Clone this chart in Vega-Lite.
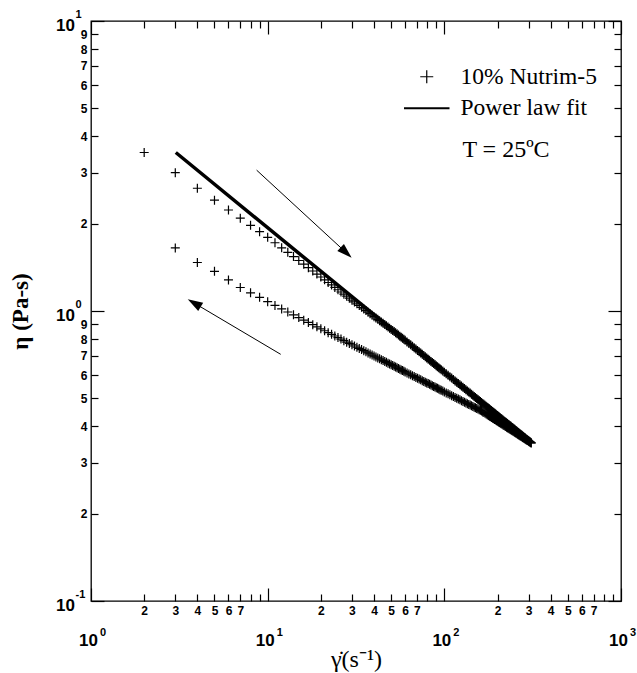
{
  "$schema": "https://vega.github.io/schema/vega-lite/v6.json",
  "width": 530,
  "height": 580,
  "autosize": "none",
  "padding": {"left": 91, "top": 21, "right": 16, "bottom": 72},
  "background": "white",
  "config": {
    "view": {"stroke": "black", "strokeWidth": 1.3},
    "axis": {"grid": false, "domain": false, "tickColor": "black", "tickWidth": 1.2, "labelColor": "black", "labelFont": "Liberation Sans", "labelFontWeight": "bold", "labelFlush": false, "labelOverlap": false, "labelBound": false}
  },
  "datasets": {
    "points": [
      {"sweep":"up","series":"10% Nutrim-5","rate":2,"eta":3.52},
      {"sweep":"up","series":"10% Nutrim-5","rate":3,"eta":3.00},
      {"sweep":"up","series":"10% Nutrim-5","rate":4,"eta":2.65},
      {"sweep":"up","series":"10% Nutrim-5","rate":5,"eta":2.41},
      {"sweep":"up","series":"10% Nutrim-5","rate":6,"eta":2.23},
      {"sweep":"up","series":"10% Nutrim-5","rate":7,"eta":2.09},
      {"sweep":"up","series":"10% Nutrim-5","rate":8,"eta":1.975},
      {"sweep":"up","series":"10% Nutrim-5","rate":9,"eta":1.878},
      {"sweep":"up","series":"10% Nutrim-5","rate":10,"eta":1.795},
      {"sweep":"up","series":"10% Nutrim-5","rate":11,"eta":1.719},
      {"sweep":"up","series":"10% Nutrim-5","rate":12,"eta":1.652},
      {"sweep":"up","series":"10% Nutrim-5","rate":13,"eta":1.594},
      {"sweep":"up","series":"10% Nutrim-5","rate":14,"eta":1.540},
      {"sweep":"up","series":"10% Nutrim-5","rate":15,"eta":1.493},
      {"sweep":"up","series":"10% Nutrim-5","rate":16,"eta":1.450},
      {"sweep":"up","series":"10% Nutrim-5","rate":17,"eta":1.411},
      {"sweep":"up","series":"10% Nutrim-5","rate":18,"eta":1.374},
      {"sweep":"up","series":"10% Nutrim-5","rate":19,"eta":1.341},
      {"sweep":"up","series":"10% Nutrim-5","rate":20,"eta":1.310},
      {"sweep":"up","series":"10% Nutrim-5","rate":21,"eta":1.281},
      {"sweep":"up","series":"10% Nutrim-5","rate":22,"eta":1.254},
      {"sweep":"up","series":"10% Nutrim-5","rate":23,"eta":1.230},
      {"sweep":"up","series":"10% Nutrim-5","rate":24,"eta":1.206},
      {"sweep":"up","series":"10% Nutrim-5","rate":25,"eta":1.184},
      {"sweep":"up","series":"10% Nutrim-5","rate":26,"eta":1.163},
      {"sweep":"up","series":"10% Nutrim-5","rate":27,"eta":1.143},
      {"sweep":"up","series":"10% Nutrim-5","rate":28,"eta":1.125},
      {"sweep":"up","series":"10% Nutrim-5","rate":29,"eta":1.107},
      {"sweep":"up","series":"10% Nutrim-5","rate":30,"eta":1.090},
      {"sweep":"up","series":"10% Nutrim-5","rate":31,"eta":1.0745},
      {"sweep":"up","series":"10% Nutrim-5","rate":32,"eta":1.059},
      {"sweep":"up","series":"10% Nutrim-5","rate":33,"eta":1.0445},
      {"sweep":"up","series":"10% Nutrim-5","rate":34,"eta":1.030},
      {"sweep":"up","series":"10% Nutrim-5","rate":35,"eta":1.0165},
      {"sweep":"up","series":"10% Nutrim-5","rate":36,"eta":1.003},
      {"sweep":"up","series":"10% Nutrim-5","rate":37,"eta":0.991},
      {"sweep":"up","series":"10% Nutrim-5","rate":38,"eta":0.979},
      {"sweep":"up","series":"10% Nutrim-5","rate":39,"eta":0.9675},
      {"sweep":"up","series":"10% Nutrim-5","rate":40,"eta":0.956},
      {"sweep":"up","series":"10% Nutrim-5","rate":41,"eta":0.946},
      {"sweep":"up","series":"10% Nutrim-5","rate":42,"eta":0.936},
      {"sweep":"up","series":"10% Nutrim-5","rate":43,"eta":0.926},
      {"sweep":"up","series":"10% Nutrim-5","rate":44,"eta":0.916},
      {"sweep":"up","series":"10% Nutrim-5","rate":45,"eta":0.907},
      {"sweep":"up","series":"10% Nutrim-5","rate":46,"eta":0.898},
      {"sweep":"up","series":"10% Nutrim-5","rate":47,"eta":0.889},
      {"sweep":"up","series":"10% Nutrim-5","rate":48,"eta":0.880},
      {"sweep":"up","series":"10% Nutrim-5","rate":49,"eta":0.872},
      {"sweep":"up","series":"10% Nutrim-5","rate":50,"eta":0.864},
      {"sweep":"up","series":"10% Nutrim-5","rate":51,"eta":0.8565},
      {"sweep":"up","series":"10% Nutrim-5","rate":52,"eta":0.849},
      {"sweep":"up","series":"10% Nutrim-5","rate":53,"eta":0.8415},
      {"sweep":"up","series":"10% Nutrim-5","rate":54,"eta":0.834},
      {"sweep":"up","series":"10% Nutrim-5","rate":55,"eta":0.8265},
      {"sweep":"up","series":"10% Nutrim-5","rate":56,"eta":0.819},
      {"sweep":"up","series":"10% Nutrim-5","rate":57,"eta":0.812},
      {"sweep":"up","series":"10% Nutrim-5","rate":58,"eta":0.805},
      {"sweep":"up","series":"10% Nutrim-5","rate":59,"eta":0.7985},
      {"sweep":"up","series":"10% Nutrim-5","rate":60,"eta":0.792},
      {"sweep":"up","series":"10% Nutrim-5","rate":61.5,"eta":0.7825},
      {"sweep":"up","series":"10% Nutrim-5","rate":63,"eta":0.773},
      {"sweep":"up","series":"10% Nutrim-5","rate":64.5,"eta":0.7645},
      {"sweep":"up","series":"10% Nutrim-5","rate":66,"eta":0.756},
      {"sweep":"up","series":"10% Nutrim-5","rate":67.5,"eta":0.7475},
      {"sweep":"up","series":"10% Nutrim-5","rate":69,"eta":0.739},
      {"sweep":"up","series":"10% Nutrim-5","rate":70.5,"eta":0.7315},
      {"sweep":"up","series":"10% Nutrim-5","rate":72,"eta":0.724},
      {"sweep":"up","series":"10% Nutrim-5","rate":73.5,"eta":0.7165},
      {"sweep":"up","series":"10% Nutrim-5","rate":75,"eta":0.709},
      {"sweep":"up","series":"10% Nutrim-5","rate":76.5,"eta":0.7025},
      {"sweep":"up","series":"10% Nutrim-5","rate":78,"eta":0.696},
      {"sweep":"up","series":"10% Nutrim-5","rate":79.5,"eta":0.689},
      {"sweep":"up","series":"10% Nutrim-5","rate":81,"eta":0.682},
      {"sweep":"up","series":"10% Nutrim-5","rate":82.5,"eta":0.676},
      {"sweep":"up","series":"10% Nutrim-5","rate":84,"eta":0.670},
      {"sweep":"up","series":"10% Nutrim-5","rate":85.5,"eta":0.6645},
      {"sweep":"up","series":"10% Nutrim-5","rate":87,"eta":0.659},
      {"sweep":"up","series":"10% Nutrim-5","rate":88.5,"eta":0.6535},
      {"sweep":"up","series":"10% Nutrim-5","rate":90,"eta":0.648},
      {"sweep":"up","series":"10% Nutrim-5","rate":91.5,"eta":0.6425},
      {"sweep":"up","series":"10% Nutrim-5","rate":93,"eta":0.637},
      {"sweep":"up","series":"10% Nutrim-5","rate":94.5,"eta":0.632},
      {"sweep":"up","series":"10% Nutrim-5","rate":96,"eta":0.627},
      {"sweep":"up","series":"10% Nutrim-5","rate":98,"eta":0.621},
      {"sweep":"up","series":"10% Nutrim-5","rate":100,"eta":0.615},
      {"sweep":"up","series":"10% Nutrim-5","rate":102.5,"eta":0.6075},
      {"sweep":"up","series":"10% Nutrim-5","rate":105,"eta":0.600},
      {"sweep":"up","series":"10% Nutrim-5","rate":107.5,"eta":0.5935},
      {"sweep":"up","series":"10% Nutrim-5","rate":110,"eta":0.587},
      {"sweep":"up","series":"10% Nutrim-5","rate":112.5,"eta":0.5805},
      {"sweep":"up","series":"10% Nutrim-5","rate":115,"eta":0.574},
      {"sweep":"up","series":"10% Nutrim-5","rate":117.5,"eta":0.568},
      {"sweep":"up","series":"10% Nutrim-5","rate":120,"eta":0.562},
      {"sweep":"up","series":"10% Nutrim-5","rate":122.5,"eta":0.5565},
      {"sweep":"up","series":"10% Nutrim-5","rate":125,"eta":0.551},
      {"sweep":"up","series":"10% Nutrim-5","rate":127.5,"eta":0.5455},
      {"sweep":"up","series":"10% Nutrim-5","rate":130,"eta":0.540},
      {"sweep":"up","series":"10% Nutrim-5","rate":132.5,"eta":0.535},
      {"sweep":"up","series":"10% Nutrim-5","rate":135,"eta":0.530},
      {"sweep":"up","series":"10% Nutrim-5","rate":137.5,"eta":0.5255},
      {"sweep":"up","series":"10% Nutrim-5","rate":140,"eta":0.521},
      {"sweep":"up","series":"10% Nutrim-5","rate":142.5,"eta":0.5165},
      {"sweep":"up","series":"10% Nutrim-5","rate":145,"eta":0.512},
      {"sweep":"up","series":"10% Nutrim-5","rate":147.5,"eta":0.5075},
      {"sweep":"up","series":"10% Nutrim-5","rate":150,"eta":0.503},
      {"sweep":"up","series":"10% Nutrim-5","rate":152.5,"eta":0.499},
      {"sweep":"up","series":"10% Nutrim-5","rate":155,"eta":0.495},
      {"sweep":"up","series":"10% Nutrim-5","rate":157.5,"eta":0.491},
      {"sweep":"up","series":"10% Nutrim-5","rate":160,"eta":0.487},
      {"sweep":"up","series":"10% Nutrim-5","rate":162.5,"eta":0.4835},
      {"sweep":"up","series":"10% Nutrim-5","rate":165,"eta":0.480},
      {"sweep":"up","series":"10% Nutrim-5","rate":167.5,"eta":0.4765},
      {"sweep":"up","series":"10% Nutrim-5","rate":170,"eta":0.473},
      {"sweep":"up","series":"10% Nutrim-5","rate":172.5,"eta":0.4695},
      {"sweep":"up","series":"10% Nutrim-5","rate":175,"eta":0.466},
      {"sweep":"up","series":"10% Nutrim-5","rate":177.5,"eta":0.463},
      {"sweep":"up","series":"10% Nutrim-5","rate":180,"eta":0.460},
      {"sweep":"up","series":"10% Nutrim-5","rate":182.5,"eta":0.4568},
      {"sweep":"up","series":"10% Nutrim-5","rate":185,"eta":0.4535},
      {"sweep":"up","series":"10% Nutrim-5","rate":187.5,"eta":0.4505},
      {"sweep":"up","series":"10% Nutrim-5","rate":190,"eta":0.4475},
      {"sweep":"up","series":"10% Nutrim-5","rate":192.5,"eta":0.4448},
      {"sweep":"up","series":"10% Nutrim-5","rate":195,"eta":0.442},
      {"sweep":"up","series":"10% Nutrim-5","rate":197.5,"eta":0.439},
      {"sweep":"up","series":"10% Nutrim-5","rate":200,"eta":0.436},
      {"sweep":"up","series":"10% Nutrim-5","rate":202.5,"eta":0.4335},
      {"sweep":"up","series":"10% Nutrim-5","rate":205,"eta":0.431},
      {"sweep":"up","series":"10% Nutrim-5","rate":207.5,"eta":0.4285},
      {"sweep":"up","series":"10% Nutrim-5","rate":210,"eta":0.426},
      {"sweep":"up","series":"10% Nutrim-5","rate":212.5,"eta":0.4235},
      {"sweep":"up","series":"10% Nutrim-5","rate":215,"eta":0.421},
      {"sweep":"up","series":"10% Nutrim-5","rate":217.5,"eta":0.4185},
      {"sweep":"up","series":"10% Nutrim-5","rate":220,"eta":0.416},
      {"sweep":"up","series":"10% Nutrim-5","rate":222.5,"eta":0.4138},
      {"sweep":"up","series":"10% Nutrim-5","rate":225,"eta":0.4115},
      {"sweep":"up","series":"10% Nutrim-5","rate":227.5,"eta":0.4093},
      {"sweep":"up","series":"10% Nutrim-5","rate":230,"eta":0.407},
      {"sweep":"up","series":"10% Nutrim-5","rate":232.5,"eta":0.405},
      {"sweep":"up","series":"10% Nutrim-5","rate":235,"eta":0.403},
      {"sweep":"up","series":"10% Nutrim-5","rate":237.5,"eta":0.401},
      {"sweep":"up","series":"10% Nutrim-5","rate":240,"eta":0.399},
      {"sweep":"up","series":"10% Nutrim-5","rate":242.5,"eta":0.3969},
      {"sweep":"up","series":"10% Nutrim-5","rate":245,"eta":0.3947},
      {"sweep":"up","series":"10% Nutrim-5","rate":247.5,"eta":0.3928},
      {"sweep":"up","series":"10% Nutrim-5","rate":250,"eta":0.3908},
      {"sweep":"up","series":"10% Nutrim-5","rate":252.5,"eta":0.3889},
      {"sweep":"up","series":"10% Nutrim-5","rate":255,"eta":0.387},
      {"sweep":"up","series":"10% Nutrim-5","rate":257.5,"eta":0.385},
      {"sweep":"up","series":"10% Nutrim-5","rate":260,"eta":0.383},
      {"sweep":"up","series":"10% Nutrim-5","rate":262.5,"eta":0.3814},
      {"sweep":"up","series":"10% Nutrim-5","rate":265,"eta":0.3797},
      {"sweep":"up","series":"10% Nutrim-5","rate":267.5,"eta":0.3779},
      {"sweep":"up","series":"10% Nutrim-5","rate":270,"eta":0.376},
      {"sweep":"up","series":"10% Nutrim-5","rate":272.5,"eta":0.3744},
      {"sweep":"up","series":"10% Nutrim-5","rate":275,"eta":0.3727},
      {"sweep":"up","series":"10% Nutrim-5","rate":277.5,"eta":0.3711},
      {"sweep":"up","series":"10% Nutrim-5","rate":280,"eta":0.3694},
      {"sweep":"up","series":"10% Nutrim-5","rate":282.5,"eta":0.3678},
      {"sweep":"up","series":"10% Nutrim-5","rate":285,"eta":0.3662},
      {"sweep":"up","series":"10% Nutrim-5","rate":287.5,"eta":0.3646},
      {"sweep":"up","series":"10% Nutrim-5","rate":290,"eta":0.363},
      {"sweep":"up","series":"10% Nutrim-5","rate":292.5,"eta":0.3615},
      {"sweep":"up","series":"10% Nutrim-5","rate":295,"eta":0.360},
      {"sweep":"up","series":"10% Nutrim-5","rate":297.5,"eta":0.3585},
      {"sweep":"up","series":"10% Nutrim-5","rate":300,"eta":0.357},
      {"sweep":"up","series":"10% Nutrim-5","rate":302.5,"eta":0.3555},
      {"sweep":"up","series":"10% Nutrim-5","rate":305,"eta":0.354},
      {"sweep":"up","series":"10% Nutrim-5","rate":307.5,"eta":0.3525},
      {"sweep":"up","series":"10% Nutrim-5","rate":310,"eta":0.351},
      {"sweep":"down","series":"10% Nutrim-5","rate":3,"eta":1.65},
      {"sweep":"down","series":"10% Nutrim-5","rate":4,"eta":1.47},
      {"sweep":"down","series":"10% Nutrim-5","rate":5,"eta":1.37},
      {"sweep":"down","series":"10% Nutrim-5","rate":6,"eta":1.28},
      {"sweep":"down","series":"10% Nutrim-5","rate":7,"eta":1.205},
      {"sweep":"down","series":"10% Nutrim-5","rate":8,"eta":1.155},
      {"sweep":"down","series":"10% Nutrim-5","rate":9,"eta":1.115},
      {"sweep":"down","series":"10% Nutrim-5","rate":10,"eta":1.077},
      {"sweep":"down","series":"10% Nutrim-5","rate":11,"eta":1.045},
      {"sweep":"down","series":"10% Nutrim-5","rate":12,"eta":1.017},
      {"sweep":"down","series":"10% Nutrim-5","rate":13,"eta":0.992},
      {"sweep":"down","series":"10% Nutrim-5","rate":14,"eta":0.970},
      {"sweep":"down","series":"10% Nutrim-5","rate":15,"eta":0.949},
      {"sweep":"down","series":"10% Nutrim-5","rate":16,"eta":0.930},
      {"sweep":"down","series":"10% Nutrim-5","rate":17,"eta":0.913},
      {"sweep":"down","series":"10% Nutrim-5","rate":18,"eta":0.897},
      {"sweep":"down","series":"10% Nutrim-5","rate":19,"eta":0.882},
      {"sweep":"down","series":"10% Nutrim-5","rate":20,"eta":0.868},
      {"sweep":"down","series":"10% Nutrim-5","rate":21,"eta":0.855},
      {"sweep":"down","series":"10% Nutrim-5","rate":22,"eta":0.842},
      {"sweep":"down","series":"10% Nutrim-5","rate":23,"eta":0.831},
      {"sweep":"down","series":"10% Nutrim-5","rate":24,"eta":0.820},
      {"sweep":"down","series":"10% Nutrim-5","rate":25,"eta":0.810},
      {"sweep":"down","series":"10% Nutrim-5","rate":26,"eta":0.800},
      {"sweep":"down","series":"10% Nutrim-5","rate":27,"eta":0.790},
      {"sweep":"down","series":"10% Nutrim-5","rate":28,"eta":0.781},
      {"sweep":"down","series":"10% Nutrim-5","rate":29,"eta":0.773},
      {"sweep":"down","series":"10% Nutrim-5","rate":30,"eta":0.765},
      {"sweep":"down","series":"10% Nutrim-5","rate":31,"eta":0.7575},
      {"sweep":"down","series":"10% Nutrim-5","rate":32,"eta":0.750},
      {"sweep":"down","series":"10% Nutrim-5","rate":33,"eta":0.743},
      {"sweep":"down","series":"10% Nutrim-5","rate":34,"eta":0.736},
      {"sweep":"down","series":"10% Nutrim-5","rate":35,"eta":0.7295},
      {"sweep":"down","series":"10% Nutrim-5","rate":36,"eta":0.723},
      {"sweep":"down","series":"10% Nutrim-5","rate":37,"eta":0.717},
      {"sweep":"down","series":"10% Nutrim-5","rate":38,"eta":0.711},
      {"sweep":"down","series":"10% Nutrim-5","rate":39,"eta":0.705},
      {"sweep":"down","series":"10% Nutrim-5","rate":40,"eta":0.699},
      {"sweep":"down","series":"10% Nutrim-5","rate":41,"eta":0.694},
      {"sweep":"down","series":"10% Nutrim-5","rate":42,"eta":0.689},
      {"sweep":"down","series":"10% Nutrim-5","rate":43,"eta":0.684},
      {"sweep":"down","series":"10% Nutrim-5","rate":44,"eta":0.679},
      {"sweep":"down","series":"10% Nutrim-5","rate":45,"eta":0.6745},
      {"sweep":"down","series":"10% Nutrim-5","rate":46,"eta":0.670},
      {"sweep":"down","series":"10% Nutrim-5","rate":47,"eta":0.6655},
      {"sweep":"down","series":"10% Nutrim-5","rate":48,"eta":0.661},
      {"sweep":"down","series":"10% Nutrim-5","rate":49,"eta":0.657},
      {"sweep":"down","series":"10% Nutrim-5","rate":50,"eta":0.653},
      {"sweep":"down","series":"10% Nutrim-5","rate":51,"eta":0.649},
      {"sweep":"down","series":"10% Nutrim-5","rate":52,"eta":0.645},
      {"sweep":"down","series":"10% Nutrim-5","rate":53,"eta":0.641},
      {"sweep":"down","series":"10% Nutrim-5","rate":54,"eta":0.637},
      {"sweep":"down","series":"10% Nutrim-5","rate":55,"eta":0.6335},
      {"sweep":"down","series":"10% Nutrim-5","rate":56,"eta":0.630},
      {"sweep":"down","series":"10% Nutrim-5","rate":57,"eta":0.6265},
      {"sweep":"down","series":"10% Nutrim-5","rate":58,"eta":0.623},
      {"sweep":"down","series":"10% Nutrim-5","rate":59,"eta":0.6198},
      {"sweep":"down","series":"10% Nutrim-5","rate":60,"eta":0.6166},
      {"sweep":"down","series":"10% Nutrim-5","rate":61.5,"eta":0.6118},
      {"sweep":"down","series":"10% Nutrim-5","rate":63,"eta":0.607},
      {"sweep":"down","series":"10% Nutrim-5","rate":64.5,"eta":0.6028},
      {"sweep":"down","series":"10% Nutrim-5","rate":66,"eta":0.5985},
      {"sweep":"down","series":"10% Nutrim-5","rate":67.5,"eta":0.5943},
      {"sweep":"down","series":"10% Nutrim-5","rate":69,"eta":0.590},
      {"sweep":"down","series":"10% Nutrim-5","rate":70.5,"eta":0.5863},
      {"sweep":"down","series":"10% Nutrim-5","rate":72,"eta":0.5826},
      {"sweep":"down","series":"10% Nutrim-5","rate":73.5,"eta":0.5788},
      {"sweep":"down","series":"10% Nutrim-5","rate":75,"eta":0.575},
      {"sweep":"down","series":"10% Nutrim-5","rate":76.5,"eta":0.5715},
      {"sweep":"down","series":"10% Nutrim-5","rate":78,"eta":0.568},
      {"sweep":"down","series":"10% Nutrim-5","rate":79.5,"eta":0.5649},
      {"sweep":"down","series":"10% Nutrim-5","rate":81,"eta":0.5618},
      {"sweep":"down","series":"10% Nutrim-5","rate":82.5,"eta":0.5587},
      {"sweep":"down","series":"10% Nutrim-5","rate":84,"eta":0.5555},
      {"sweep":"down","series":"10% Nutrim-5","rate":85.5,"eta":0.5525},
      {"sweep":"down","series":"10% Nutrim-5","rate":87,"eta":0.5495},
      {"sweep":"down","series":"10% Nutrim-5","rate":88.5,"eta":0.5466},
      {"sweep":"down","series":"10% Nutrim-5","rate":90,"eta":0.5437},
      {"sweep":"down","series":"10% Nutrim-5","rate":91.5,"eta":0.541},
      {"sweep":"down","series":"10% Nutrim-5","rate":93,"eta":0.5382},
      {"sweep":"down","series":"10% Nutrim-5","rate":94.5,"eta":0.5356},
      {"sweep":"down","series":"10% Nutrim-5","rate":96,"eta":0.5329},
      {"sweep":"down","series":"10% Nutrim-5","rate":98,"eta":0.5295},
      {"sweep":"down","series":"10% Nutrim-5","rate":100,"eta":0.526},
      {"sweep":"down","series":"10% Nutrim-5","rate":102.5,"eta":0.522},
      {"sweep":"down","series":"10% Nutrim-5","rate":105,"eta":0.518},
      {"sweep":"down","series":"10% Nutrim-5","rate":107.5,"eta":0.5143},
      {"sweep":"down","series":"10% Nutrim-5","rate":110,"eta":0.5106},
      {"sweep":"down","series":"10% Nutrim-5","rate":112.5,"eta":0.5071},
      {"sweep":"down","series":"10% Nutrim-5","rate":115,"eta":0.5036},
      {"sweep":"down","series":"10% Nutrim-5","rate":117.5,"eta":0.5003},
      {"sweep":"down","series":"10% Nutrim-5","rate":120,"eta":0.497},
      {"sweep":"down","series":"10% Nutrim-5","rate":122.5,"eta":0.4939},
      {"sweep":"down","series":"10% Nutrim-5","rate":125,"eta":0.4907},
      {"sweep":"down","series":"10% Nutrim-5","rate":127.5,"eta":0.4878},
      {"sweep":"down","series":"10% Nutrim-5","rate":130,"eta":0.4848},
      {"sweep":"down","series":"10% Nutrim-5","rate":132.5,"eta":0.482},
      {"sweep":"down","series":"10% Nutrim-5","rate":135,"eta":0.4791},
      {"sweep":"down","series":"10% Nutrim-5","rate":137.5,"eta":0.4764},
      {"sweep":"down","series":"10% Nutrim-5","rate":140,"eta":0.4737},
      {"sweep":"down","series":"10% Nutrim-5","rate":142.5,"eta":0.4711},
      {"sweep":"down","series":"10% Nutrim-5","rate":145,"eta":0.4685},
      {"sweep":"down","series":"10% Nutrim-5","rate":147.5,"eta":0.4661},
      {"sweep":"down","series":"10% Nutrim-5","rate":150,"eta":0.4636},
      {"sweep":"down","series":"10% Nutrim-5","rate":152.5,"eta":0.4613},
      {"sweep":"down","series":"10% Nutrim-5","rate":155,"eta":0.4589},
      {"sweep":"down","series":"10% Nutrim-5","rate":157.5,"eta":0.4566},
      {"sweep":"down","series":"10% Nutrim-5","rate":160,"eta":0.4543},
      {"sweep":"down","series":"10% Nutrim-5","rate":162.5,"eta":0.4516},
      {"sweep":"down","series":"10% Nutrim-5","rate":165,"eta":0.4489},
      {"sweep":"down","series":"10% Nutrim-5","rate":167.5,"eta":0.4463},
      {"sweep":"down","series":"10% Nutrim-5","rate":170,"eta":0.4437},
      {"sweep":"down","series":"10% Nutrim-5","rate":172.5,"eta":0.4412},
      {"sweep":"down","series":"10% Nutrim-5","rate":175,"eta":0.4387},
      {"sweep":"down","series":"10% Nutrim-5","rate":177.5,"eta":0.4363},
      {"sweep":"down","series":"10% Nutrim-5","rate":180,"eta":0.4339},
      {"sweep":"down","series":"10% Nutrim-5","rate":182.5,"eta":0.4316},
      {"sweep":"down","series":"10% Nutrim-5","rate":185,"eta":0.4292},
      {"sweep":"down","series":"10% Nutrim-5","rate":187.5,"eta":0.427},
      {"sweep":"down","series":"10% Nutrim-5","rate":190,"eta":0.4248},
      {"sweep":"down","series":"10% Nutrim-5","rate":192.5,"eta":0.4227},
      {"sweep":"down","series":"10% Nutrim-5","rate":195,"eta":0.4205},
      {"sweep":"down","series":"10% Nutrim-5","rate":197.5,"eta":0.4185},
      {"sweep":"down","series":"10% Nutrim-5","rate":200,"eta":0.4164},
      {"sweep":"down","series":"10% Nutrim-5","rate":202.5,"eta":0.4144},
      {"sweep":"down","series":"10% Nutrim-5","rate":205,"eta":0.4124},
      {"sweep":"down","series":"10% Nutrim-5","rate":207.5,"eta":0.4105},
      {"sweep":"down","series":"10% Nutrim-5","rate":210,"eta":0.4085},
      {"sweep":"down","series":"10% Nutrim-5","rate":212.5,"eta":0.4067},
      {"sweep":"down","series":"10% Nutrim-5","rate":215,"eta":0.4048},
      {"sweep":"down","series":"10% Nutrim-5","rate":217.5,"eta":0.403},
      {"sweep":"down","series":"10% Nutrim-5","rate":220,"eta":0.4012},
      {"sweep":"down","series":"10% Nutrim-5","rate":222.5,"eta":0.3995},
      {"sweep":"down","series":"10% Nutrim-5","rate":225,"eta":0.3977},
      {"sweep":"down","series":"10% Nutrim-5","rate":227.5,"eta":0.396},
      {"sweep":"down","series":"10% Nutrim-5","rate":230,"eta":0.3943},
      {"sweep":"down","series":"10% Nutrim-5","rate":232.5,"eta":0.3927},
      {"sweep":"down","series":"10% Nutrim-5","rate":235,"eta":0.3910},
      {"sweep":"down","series":"10% Nutrim-5","rate":237.5,"eta":0.3894},
      {"sweep":"down","series":"10% Nutrim-5","rate":240,"eta":0.3877},
      {"sweep":"down","series":"10% Nutrim-5","rate":242.5,"eta":0.3862},
      {"sweep":"down","series":"10% Nutrim-5","rate":245,"eta":0.3846},
      {"sweep":"down","series":"10% Nutrim-5","rate":247.5,"eta":0.3831},
      {"sweep":"down","series":"10% Nutrim-5","rate":250,"eta":0.3816},
      {"sweep":"down","series":"10% Nutrim-5","rate":252.5,"eta":0.3802},
      {"sweep":"down","series":"10% Nutrim-5","rate":255,"eta":0.3787},
      {"sweep":"down","series":"10% Nutrim-5","rate":257.5,"eta":0.3773},
      {"sweep":"down","series":"10% Nutrim-5","rate":260,"eta":0.3758},
      {"sweep":"down","series":"10% Nutrim-5","rate":262.5,"eta":0.3744},
      {"sweep":"down","series":"10% Nutrim-5","rate":265,"eta":0.3730},
      {"sweep":"down","series":"10% Nutrim-5","rate":267.5,"eta":0.3717},
      {"sweep":"down","series":"10% Nutrim-5","rate":270,"eta":0.3703},
      {"sweep":"down","series":"10% Nutrim-5","rate":272.5,"eta":0.369},
      {"sweep":"down","series":"10% Nutrim-5","rate":275,"eta":0.3677},
      {"sweep":"down","series":"10% Nutrim-5","rate":277.5,"eta":0.3664},
      {"sweep":"down","series":"10% Nutrim-5","rate":280,"eta":0.3651},
      {"sweep":"down","series":"10% Nutrim-5","rate":282.5,"eta":0.3639},
      {"sweep":"down","series":"10% Nutrim-5","rate":285,"eta":0.3626},
      {"sweep":"down","series":"10% Nutrim-5","rate":287.5,"eta":0.3614},
      {"sweep":"down","series":"10% Nutrim-5","rate":290,"eta":0.3601},
      {"sweep":"down","series":"10% Nutrim-5","rate":292.5,"eta":0.3589},
      {"sweep":"down","series":"10% Nutrim-5","rate":295,"eta":0.3577},
      {"sweep":"down","series":"10% Nutrim-5","rate":297.5,"eta":0.3566},
      {"sweep":"down","series":"10% Nutrim-5","rate":300,"eta":0.3554},
      {"sweep":"down","series":"10% Nutrim-5","rate":302.5,"eta":0.3543},
      {"sweep":"down","series":"10% Nutrim-5","rate":305,"eta":0.3531},
      {"sweep":"down","series":"10% Nutrim-5","rate":307.5,"eta":0.352},
      {"sweep":"down","series":"10% Nutrim-5","rate":310,"eta":0.3508}
    ],
    "fit": [
      {"rate": 3.02, "eta": 3.52},
      {"rate": 30, "eta": 1.12},
      {"rate": 312, "eta": 0.35}
    ],
    "arrows": [
      {"id": 1, "tailRate": 8.66, "tailEta": 3.06, "tipRate": 27.8, "tipEta": 1.59},
      {"id": 2, "tailRate": 11.85, "tailEta": 0.709, "tipRate": 3.84, "tipEta": 1.065}
    ]
  },
  "layer": [
    {
      "data": {"name": "points"},
      "transform": [{"filter": "datum.sweep === 'up'"}],
      "mark": {"type": "point", "filled": false, "color": "black", "strokeWidth": 1.2, "size": 81, "opacity": 1},
      "encoding": {
        "x": {"field": "rate", "type": "quantitative", "scale": {"type": "log", "domain": [1, 1000], "nice": false},
          "axis": {"orient": "bottom", "values": [1, 10, 100, 1000], "labelExpr": "'10'", "tickSize": -13, "labelPadding": 44.5, "labelFontSize": 17, "labelOffset": -3,
            "title": "\u03b3\u0307(s\u207b\u00b9)", "titleFont": "Liberation Serif", "titleFontSize": 24, "titleFontWeight": "normal", "titleColor": "black", "titlePadding": -1}},
        "y": {"field": "eta", "type": "quantitative", "scale": {"type": "log", "domain": [0.1, 10], "nice": false},
          "axis": {"orient": "left", "values": [0.1, 1, 10], "labelExpr": "'10'", "tickSize": -13, "labelPadding": 29.5, "labelFontSize": 17, "labelOffset": 4,
            "title": "\u03b7 (Pa-s)", "titleFont": "Liberation Serif", "titleFontSize": 23, "titleFontWeight": "bold", "titleColor": "black", "titlePadding": 23}},
        "shape": {"field": "series", "type": "nominal",
          "scale": {"domain": ["10% Nutrim-5", "Power law fit"], "range": ["M-1,0L1,0M0,-1L0,1", "M-3.5,-0.08L3.5,-0.08M-3.5,0L3.5,0M-3.5,0.08L3.5,0.08"]},
          "legend": {"orient": "none", "legendX": 324, "legendY": 44, "title": "T = 25\u00baC", "titleOrient": "bottom", "titleAnchor": "middle",
            "titleFont": "Liberation Serif", "titleFontSize": 24, "titleFontWeight": "normal", "titleColor": "black", "titlePadding": 18,
            "labelFont": "Liberation Serif", "labelFontSize": 23.5, "labelColor": "black", "labelOffset": 22, "labelLimit": 300,
            "symbolSize": 169, "symbolStrokeColor": "black", "symbolStrokeWidth": 1.2, "rowPadding": 6.5, "padding": 0}}
      }
    },
    {
      "data": {"name": "points"},
      "transform": [{"filter": "datum.sweep === 'down'"}],
      "mark": {"type": "point", "filled": false, "color": "black", "strokeWidth": 1.2, "size": 81, "opacity": 1},
      "encoding": {
        "x": {"field": "rate", "type": "quantitative", "scale": {"type": "log", "domain": [1, 1000], "nice": false},
          "axis": {"orient": "bottom", "values": [1, 10, 100, 1000], "labelExpr": "toString(round(log(datum.value) / LN10))", "ticks": false, "labelPadding": 25, "labelFontSize": 11, "labelAlign": "left", "labelOffset": 8.5, "title": null}},
        "y": {"field": "eta", "type": "quantitative", "scale": {"type": "log", "domain": [0.1, 10], "nice": false},
          "axis": {"orient": "left", "values": [0.1, 1, 10], "labelExpr": "toString(round(log(datum.value) / LN10))", "ticks": false, "labelPadding": 16, "labelFontSize": 11, "labelAlign": "left", "labelOffset": -7, "title": null}},
        "shape": {"field": "series", "type": "nominal",
          "scale": {"domain": ["10% Nutrim-5", "Power law fit"], "range": ["M-1,0L1,0M0,-1L0,1", "M-3.5,-0.08L3.5,-0.08M-3.5,0L3.5,0M-3.5,0.08L3.5,0.08"]},
          "legend": {"orient": "none", "legendX": 324, "legendY": 44, "title": "T = 25\u00baC", "titleOrient": "bottom", "titleAnchor": "middle",
            "titleFont": "Liberation Serif", "titleFontSize": 24, "titleFontWeight": "normal", "titleColor": "black", "titlePadding": 18,
            "labelFont": "Liberation Serif", "labelFontSize": 23.5, "labelColor": "black", "labelOffset": 22, "labelLimit": 300,
            "symbolSize": 169, "symbolStrokeColor": "black", "symbolStrokeWidth": 1.2, "rowPadding": 6.5, "padding": 0}}
      }
    },
    {
      "data": {"name": "fit"},
      "mark": {"type": "line", "color": "black", "strokeWidth": 3.5},
      "encoding": {
        "x": {"field": "rate", "type": "quantitative", "scale": {"type": "log", "domain": [1, 1000], "nice": false},
          "axis": {"orient": "bottom", "values": [2, 3, 4, 5, 6, 7, 8, 9, 20, 30, 40, 50, 60, 70, 80, 90, 200, 300, 400, 500, 600, 700, 800, 900],
            "labelExpr": "datum.value < 10 ? (datum.value <= 7 ? toString(datum.value) : '') : datum.value < 100 ? (datum.value <= 70 ? toString(datum.value / 10) : '') : (datum.value <= 700 ? toString(datum.value / 100) : '')",
            "tickSize": -7, "labelPadding": 11, "labelFontSize": 12, "title": null}},
        "y": {"field": "eta", "type": "quantitative", "scale": {"type": "log", "domain": [0.1, 10], "nice": false},
          "axis": {"orient": "left", "values": [0.2, 0.3, 0.4, 0.5, 0.6, 0.7, 0.8, 0.9, 2, 3, 4, 5, 6, 7, 8, 9],
            "labelExpr": "datum.value < 1 ? toString(round(datum.value * 10)) : toString(datum.value)",
            "tickSize": -7, "labelPadding": 11, "labelFontSize": 12, "title": null}}
      }
    },
    {
      "data": {"name": "arrows"},
      "mark": {"type": "rule", "color": "black", "strokeWidth": 1},
      "encoding": {
        "x": {"field": "tailRate", "type": "quantitative", "scale": {"type": "log", "domain": [1, 1000], "nice": false},
          "axis": {"orient": "top", "values": [1, 10, 100, 1000], "tickSize": -13, "labels": false, "title": null}},
        "y": {"field": "tailEta", "type": "quantitative", "scale": {"type": "log", "domain": [0.1, 10], "nice": false},
          "axis": {"orient": "right", "values": [0.1, 1, 10], "tickSize": -13, "labels": false, "title": null}},
        "x2": {"field": "tipRate"},
        "y2": {"field": "tipEta"}
      }
    },
    {
      "data": {"name": "arrows"},
      "transform": [{"filter": "datum.id === 1"}],
      "mark": {"type": "point", "shape": "M1,0L-1,-0.65L-1,0.65Z", "filled": true, "color": "black", "size": 225, "angle": 42.7, "opacity": 1},
      "encoding": {
        "x": {"field": "tipRate", "type": "quantitative", "scale": {"type": "log", "domain": [1, 1000], "nice": false},
          "axis": {"orient": "top", "values": [2, 3, 4, 5, 6, 7, 8, 9, 20, 30, 40, 50, 60, 70, 80, 90, 200, 300, 400, 500, 600, 700, 800, 900], "tickSize": -7, "labels": false, "title": null}},
        "y": {"field": "tipEta", "type": "quantitative", "scale": {"type": "log", "domain": [0.1, 10], "nice": false},
          "axis": {"orient": "right", "values": [0.2, 0.3, 0.4, 0.5, 0.6, 0.7, 0.8, 0.9, 2, 3, 4, 5, 6, 7, 8, 9], "tickSize": -7, "labels": false, "title": null}}
      }
    },
    {
      "data": {"name": "arrows"},
      "transform": [{"filter": "datum.id === 2"}],
      "mark": {"type": "point", "shape": "M1,0L-1,-0.65L-1,0.65Z", "filled": true, "color": "black", "size": 225, "angle": 210.6, "opacity": 1},
      "encoding": {
        "x": {"field": "tipRate", "type": "quantitative", "scale": {"type": "log", "domain": [1, 1000], "nice": false}, "axis": null},
        "y": {"field": "tipEta", "type": "quantitative", "scale": {"type": "log", "domain": [0.1, 10], "nice": false}, "axis": null}
      }
    }
  ],
  "resolve": {"scale": {"x": "shared", "y": "shared"}, "axis": {"x": "independent", "y": "independent"}}
}
